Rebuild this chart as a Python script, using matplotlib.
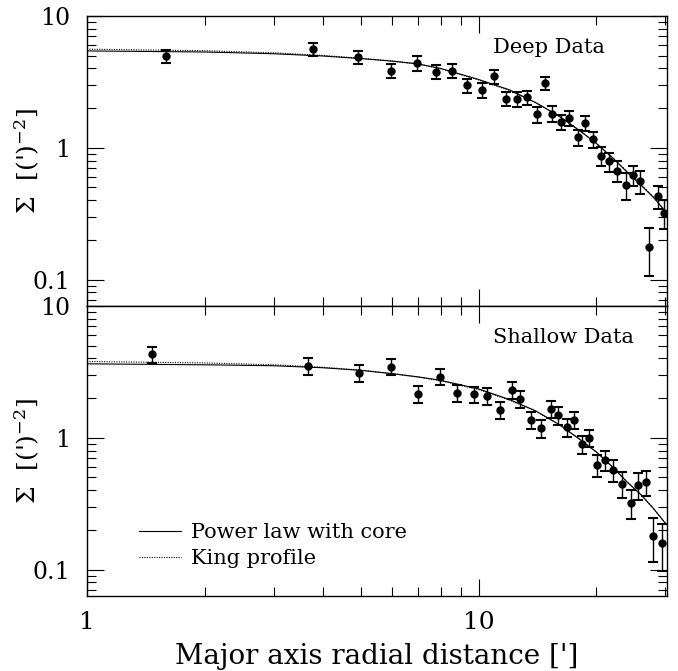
import numpy as np
import matplotlib
matplotlib.use('Agg')
import matplotlib.pyplot as plt
from matplotlib.ticker import FixedLocator, FixedFormatter, NullFormatter

plt.rcParams['font.family'] = 'DejaVu Serif'
plt.rcParams['mathtext.fontset'] = 'dejavuserif'

# -----------------------------
# Data
# -----------------------------

# Deep data
deep_r = [1.59, 3.78, 4.92, 5.99, 6.96, 7.80, 8.57, 9.36, 10.2, 10.94, 11.74, 12.52,
          13.31, 14.08, 14.8, 15.42, 16.26, 17.0, 17.9, 18.75, 19.57, 20.56, 21.6,
          22.6, 23.8, 24.8, 25.9, 27.2, 28.7, 29.8]
deep_sigma = [4.98, 5.62, 4.87, 3.83, 4.38, 3.76, 3.83, 2.97, 2.75, 3.49, 2.36, 2.34,
              2.42, 1.80, 3.09, 1.82, 1.57, 1.69, 1.20, 1.54, 1.16, 0.87, 0.79,
              0.67, 0.52, 0.62, 0.56, 0.177, 0.43, 0.32]
deep_err = [0.55, 0.65, 0.58, 0.47, 0.55, 0.45, 0.46, 0.38, 0.35, 0.43, 0.27, 0.30,
            0.30, 0.25, 0.35, 0.24, 0.21, 0.22, 0.17, 0.20, 0.16, 0.14, 0.13,
            0.12, 0.12, 0.11, 0.11, 0.07, 0.085, 0.08]

# Shallow data
shallow_r = [1.47, 3.67, 4.95, 5.99, 7.0, 7.95, 8.81, 9.71, 10.5, 11.38, 12.16, 12.8,
             13.63, 14.48, 15.3, 16.0, 16.8, 17.55, 18.35, 19.2, 20.1, 21.1, 22.1,
             23.3, 24.5, 25.6, 26.7, 27.85, 29.4]
shallow_sigma = [4.31, 3.51, 3.12, 3.47, 2.15, 2.91, 2.18, 2.14, 2.08, 1.63, 2.31, 1.96,
                 1.37, 1.18, 1.66, 1.49, 1.20, 1.36, 0.90, 1.00, 0.62, 0.68, 0.57,
                 0.45, 0.32, 0.44, 0.46, 0.18, 0.16]
shallow_err = [0.60, 0.50, 0.45, 0.50, 0.31, 0.41, 0.32, 0.30, 0.30, 0.25, 0.34, 0.29,
               0.21, 0.18, 0.25, 0.23, 0.18, 0.20, 0.14, 0.15, 0.12, 0.12, 0.11,
               0.10, 0.08, 0.10, 0.10, 0.065, 0.062]

# Model curves
model_r = [1, 2, 3, 4, 5, 6, 7, 8, 10, 12, 14, 16, 18, 20, 22, 24, 26, 28, 30]
deep_power = [5.43, 5.33, 5.17, 4.97, 4.75, 4.55, 4.33, 4.00, 3.30, 2.75, 2.20, 1.75,
              1.37, 1.08, 0.84, 0.65, 0.52, 0.42, 0.33]
deep_king = [5.60, 5.45, 5.25, 5.02, 4.78, 4.55, 4.32, 3.98, 3.27, 2.72, 2.20, 1.75,
             1.37, 1.08, 0.84, 0.66, 0.53, 0.42, 0.33]
shallow_power = [3.64, 3.58, 3.52, 3.40, 3.25, 3.07, 2.90, 2.73, 2.35, 1.95, 1.60, 1.27,
                 0.99, 0.78, 0.60, 0.46, 0.37, 0.29, 0.225]
shallow_king = [3.79, 3.70, 3.58, 3.43, 3.26, 3.07, 2.89, 2.71, 2.32, 1.93, 1.59, 1.27,
                0.99, 0.78, 0.60, 0.46, 0.37, 0.29, 0.225]

panel_names = ["Deep Data", "Shallow Data"]

# -----------------------------
# Figure
# -----------------------------

fig = plt.figure(figsize=(6.78, 6.71), dpi=100)
ax_top = fig.add_axes([0.1283, 0.544, 0.8555, 0.4322])
ax_bot = fig.add_axes([0.1283, 0.1118, 0.8555, 0.4322])

panels = [
    (ax_top, deep_r, deep_sigma, deep_err, deep_power, deep_king, panel_names[0]),
    (ax_bot, shallow_r, shallow_sigma, shallow_err, shallow_power, shallow_king, panel_names[1]),
]

for ax, r, s, e, pw, king, name in panels:
    ax.set_xscale('log')
    ax.set_yscale('log')

    ax.plot(model_r, pw, color='black', linewidth=0.8, label="Power law with core")
    ax.plot(model_r, king, color='black', linewidth=0.8, linestyle=(0, (1, 1.2)),
            label="King profile")
    ax.errorbar(r, s, yerr=e, fmt='o', color='black', markersize=5,
                elinewidth=1.0, capsize=3.8, capthick=1.5)

    ax.set_xlim(1, 30.3)
    ax.set_ylim(10 ** -1.2, 10)

    ax.xaxis.set_major_locator(FixedLocator([1, 10]))
    ax.xaxis.set_major_formatter(FixedFormatter(['1', '10']))
    ax.xaxis.set_minor_locator(FixedLocator([2, 3, 4, 5, 6, 7, 8, 9, 20, 30]))
    ax.xaxis.set_minor_formatter(NullFormatter())

    ax.yaxis.set_major_locator(FixedLocator([0.1, 1, 10]))
    ax.yaxis.set_major_formatter(FixedFormatter(['0.1', '1', '10']))
    ax.yaxis.set_minor_locator(FixedLocator(
        [0.07, 0.08, 0.09, 0.2, 0.3, 0.4, 0.5, 0.6, 0.7, 0.8, 0.9,
         2, 3, 4, 5, 6, 7, 8, 9]))
    ax.yaxis.set_minor_formatter(NullFormatter())

    ax.tick_params(which='both', direction='in', top=True, right=True,
                   width=0.8, colors='black')
    ax.tick_params(which='major', length=12.5)
    ax.tick_params(which='minor', length=6.3)
    ax.tick_params(axis='y', labelsize=17, pad=12)
    ax.tick_params(axis='x', labelsize=18, pad=11)
    for sp in ax.spines.values():
        sp.set_linewidth(1.0)

    ax.set_ylabel(r"$\Sigma$  [(')$^{-2}$]", fontsize=18)
    ax.yaxis.set_label_coords(-0.078, 0.5)

    ax.text(0.70, 0.893, name, transform=ax.transAxes, fontsize=15,
            ha='left', va='center')

ax_top.tick_params(axis='x', labelbottom=False)

ax_bot.legend(loc='lower left', bbox_to_anchor=(0.09, 0.095), frameon=False,
              fontsize=15, handlelength=2.0, handletextpad=0.5,
              borderpad=0, borderaxespad=0, labelspacing=0.35)

ax_bot.set_xlabel("Major axis radial distance [']", fontsize=20, labelpad=6)

plt.savefig('out.png', dpi=100)
